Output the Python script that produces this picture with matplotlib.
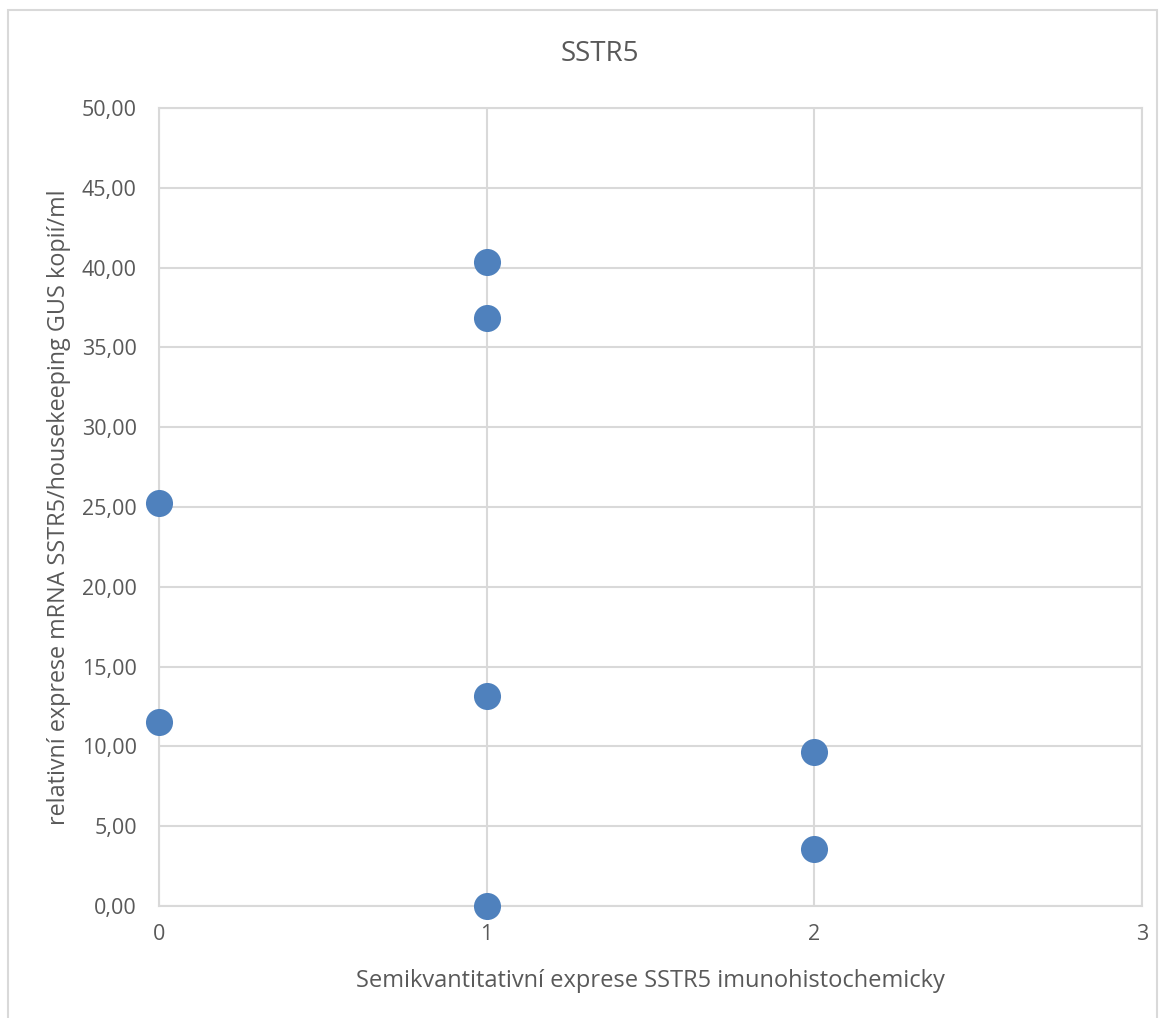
import matplotlib
matplotlib.use("Agg")
import matplotlib.pyplot as plt
from matplotlib.patches import Rectangle
from matplotlib.ticker import FuncFormatter

# semiquantitative IHC score vs relative mRNA expression
ihc_score = [0, 0, 1, 1, 1, 1, 2, 2]
mrna_expr = [25.25, 11.56, 40.36, 36.84, 13.15, 0.0, 9.62, 3.59]

title = "SSTR5"
x_label = "Semikvantitativní exprese SSTR5 imunohistochemicky"
y_label = "relativní exprese mRNA SSTR5/housekeeping GUS kopií/ml"
x_ticks = [0, 1, 2, 3]
y_ticks = [0, 5, 10, 15, 20, 25, 30, 35, 40, 45, 50]

plt.rcParams['font.family'] = ['Open Sans', 'DejaVu Sans']
text_col = "#595959"
grid_col = "#d9d9d9"

W, H = 1165, 1018
fig = plt.figure(figsize=(W / 100, H / 100), dpi=100)

# outer chart frame
fig.patches.append(Rectangle((8 / W, -0.01), (1157 - 8) / W, (H - 10) / H + 0.01,
                             transform=fig.transFigure, fill=False,
                             edgecolor=grid_col, linewidth=1.5))

left, right, top, bottom = 159, 1142, 108, 906
ax = fig.add_axes([left / W, 1 - bottom / H, (right - left) / W, (bottom - top) / H])

ax.scatter(ihc_score, mrna_expr, s=380, color="#4f81bd", zorder=3, clip_on=False,
           linewidths=0)

ax.set_xlim(0, 3)
ax.set_ylim(0, 50)
ax.set_xticks(x_ticks)
ax.set_yticks(y_ticks)
ax.yaxis.set_major_formatter(FuncFormatter(lambda v, p: f"{v:.2f}".replace(".", ",")))
ax.grid(True, color=grid_col, linewidth=1.5)
ax.set_axisbelow(True)
for s in ax.spines.values():
    s.set_color(grid_col)
    s.set_linewidth(1.5)
ax.tick_params(length=0, labelsize=15.5, colors=text_col)
ax.tick_params(axis="x", pad=13)
ax.tick_params(axis="y", pad=16)

fig.text(600 / W, 1 - 54 / H, title, fontsize=20, color=text_col,
         ha="center", va="center")
ax.set_xlabel(x_label, fontsize=17, color=text_col, labelpad=17)
ax.set_ylabel(y_label, fontsize=16.8, color=text_col, labelpad=8)

fig.savefig("out.png", dpi=100)
